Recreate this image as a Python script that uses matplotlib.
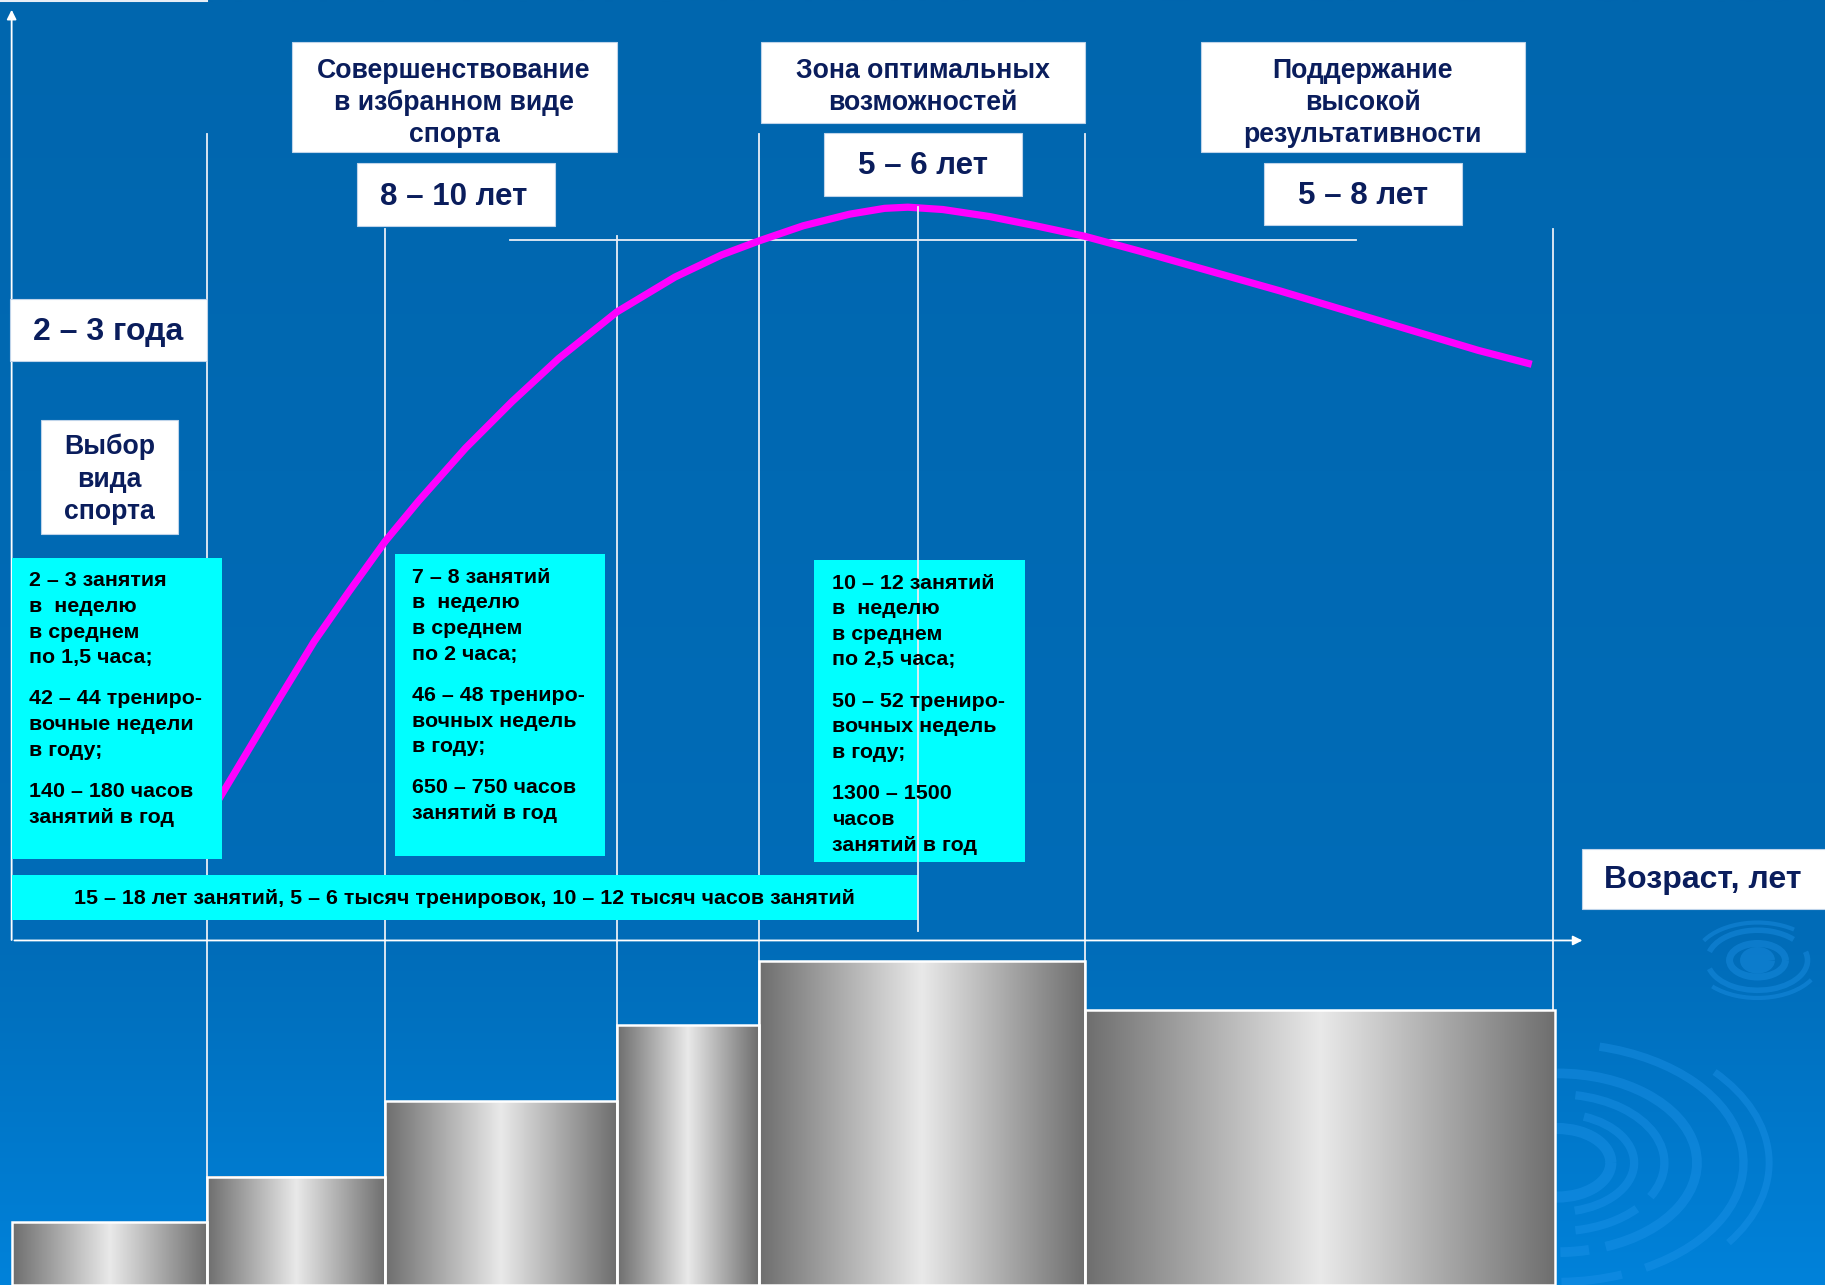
import numpy as np
import matplotlib
matplotlib.use("Agg")
import matplotlib.pyplot as plt
from matplotlib.patches import Rectangle, Arc
from matplotlib.colors import LinearSegmentedColormap, to_rgb
from matplotlib import font_manager as fm

# ---------------- data ----------------
W, H = 1568, 1104                      # drawing units (y grows downward)
stage_edges = [10, 178, 331, 530, 652, 932, 1336]   # boundaries of the age steps
bar_heights = [54, 93, 158, 223, 278, 236]          # height of each step above the baseline

curve_x = [186, 210, 240, 270, 300, 331, 360, 400, 440, 480, 530, 580, 620, 652,
           690, 730, 760, 780, 810, 850, 890, 932, 980, 1040, 1100, 1160, 1220, 1270, 1316]
curve_y = [690, 650, 600, 551, 508, 465, 430, 385, 345, 308, 268, 238, 219, 207,
           194, 184, 179, 178, 180, 186, 194, 203, 216, 233, 250, 268, 286, 301, 313]

stage_titles = ["Совершенствование\nв избранном виде\nспорта",
                "Зона оптимальных\nвозможностей",
                "Поддержание\nвысокой\nрезультативности"]
stage_durations = ["8 – 10 лет", "5 – 6 лет", "5 – 8 лет"]
first_duration = "2 – 3 года"
first_title = "Выбор\nвида\nспорта"

load_texts = [
    [["2 – 3 занятия", "в  неделю", "в среднем", "по 1,5 часа;"],
     ["42 – 44 трениро-", "вочные недели", "в году;"],
     ["140 – 180 часов", "занятий в год"]],
    [["7 – 8 занятий", "в  неделю", "в среднем", "по 2 часа;"],
     ["46 – 48 трениро-", "вочных недель", "в году;"],
     ["650 – 750 часов", "занятий в год"]],
    [["10 – 12 занятий", "в  неделю", "в среднем", "по 2,5 часа;"],
     ["50 – 52 трениро-", "вочных недель", "в году;"],
     ["1300 – 1500", "часов", "занятий в год"]],
]
band_text = "15 – 18 лет занятий, 5 – 6 тысяч тренировок, 10 – 12 тысяч часов занятий"
axis_label = "Возраст, лет"

# ---------------- fonts ----------------
def has_font(name):
    try:
        fm.findfont(fm.FontProperties(family=name), fallback_to_default=False)
        return True
    except Exception:
        return False

REG = 'Liberation Sans' if has_font('Liberation Sans') else 'DejaVu Sans'

NAVY = '#0A1D5C'
CYAN = '#00FFFF'
MAG = '#FF00FF'
LINE = '#E8EEF6'
DY = 2  # small baseline nudge for text

fig = plt.figure(figsize=(18.25, 12.85), dpi=100)
ax = fig.add_axes([0, 0, 1, 1])
ax.set_axis_off()

# ---------------- background ----------------
ys = np.linspace(0, H, 400)
c_top = np.array(to_rgb('#0066AE'))
c_mid = np.array(to_rgb('#006CB8'))
c_bot = np.array(to_rgb('#0082DA'))
bg = np.zeros((400, 1, 3))
for i, y in enumerate(ys):
    if y < 808:
        t = y / 808
        bg[i, 0] = c_top * (1 - t) + c_mid * t
    else:
        t = (y - 808) / (H - 808)
        bg[i, 0] = c_mid * (1 - t) + c_bot * t
ax.imshow(bg, extent=(0, W, H, 0), aspect='auto', zorder=0, interpolation='bilinear')

# decorative ripples
rip = '#2196EC'
big_rings = [(46, 8, [(0, 360)]), (66, 6, [(300, 70)]),
             (92, 6, [(285, 20), (30, 75)]), (120, 7, [(270, 60), (70, 88)]),
             (160, 6, [(290, 50), (60, 88)]), (182, 5, [(330, 25)])]
for r, lw, segs in big_rings:
    for t1, t2 in segs:
        ax.add_patch(Arc((1338, 999), 2 * r, 2 * r * 0.64, theta1=t1, theta2=t2,
                         color=rip, lw=lw, alpha=0.38, zorder=1))
for rx, lw, segs in [(9, 10, [(0, 360)]), (24, 5, [(0, 360)]),
                     (43, 4, [(190, 330), (350, 170)]), (54, 3, [(20, 150), (200, 320)])]:
    for t1, t2 in segs:
        ax.add_patch(Arc((1510, 825), 2 * rx, 2 * rx * 0.6, theta1=t1, theta2=t2,
                         color=rip, lw=lw, alpha=0.38, zorder=1))

# ---------------- bars ----------------
bar_cmap = LinearSegmentedColormap.from_list(
    'metal', [(0, '#6E6E6E'), (0.5, '#E9E9E9'), (1, '#6E6E6E')])
grad = np.linspace(0, 1, 256)[None, :]
for i, h in enumerate(bar_heights):
    x0, x1 = stage_edges[i], stage_edges[i + 1]
    top = H - h
    ax.imshow(grad, extent=(x0, x1, H, top), cmap=bar_cmap, aspect='auto',
              zorder=2, interpolation='bilinear')
    ax.add_patch(Rectangle((x0, top), x1 - x0, h, fill=False, ec='white', lw=1.8, zorder=3))

# ---------------- guide lines ----------------
vlines = [(178, 115, H), (331, 197, H), (530, 203, H), (652, 115, H),
          (932, 115, H), (1334, 197, H - bar_heights[-1])]
for x, y0, y1 in vlines:
    ax.plot([x, x], [y0, y1], color=LINE, lw=1.3, zorder=2.5)
ax.plot([789, 789], [178, 800], color=LINE, lw=1.3, zorder=6)
ax.plot([438, 1165], [206, 206], color=LINE, lw=1.3, zorder=2.5)
ax.plot([0, 178], [1, 1], color=LINE, lw=1.5, zorder=2.5)

# axes arrows
ax.annotate('', xy=(1362, 808), xytext=(10, 808),
            arrowprops=dict(arrowstyle='-|>', color='white', lw=1.3, mutation_scale=14), zorder=3)
ax.annotate('', xy=(10, 6), xytext=(10, 810),
            arrowprops=dict(arrowstyle='-|>', color='white', lw=1.3, mutation_scale=14), zorder=3)

# ---------------- curve ----------------
ax.plot(curve_x, curve_y, color=MAG, lw=5.2, solid_capstyle='butt',
        solid_joinstyle='round', zorder=4)

# ---------------- white label boxes ----------------
def wbox(x0, y0, x1, y1, z=5):
    ax.add_patch(Rectangle((x0, y0), x1 - x0, y1 - y0, fc='white', ec='#BFD4EA', lw=0.8, zorder=z))

def lines(xc, ys_, txt, size, ha='center', color=NAVY, z=6):
    for y, s in zip(ys_, txt.split('\n')):
        ax.text(xc, y + DY, s, ha=ha, va='center', fontsize=size, fontweight='bold',
                family=REG, color=color, zorder=z)

title_boxes = [(251, 36, 530, 131), (654, 36, 932, 106), (1032, 36, 1310, 131)]
title_centers = [390, 793, 1171]
for b, xc, t in zip(title_boxes, title_centers, stage_titles):
    wbox(*b)
    n = len(t.split('\n'))
    lines(xc, [59 + 27.5 * k for k in range(n)], t, 19.2)

dur_boxes = [(307, 140, 477, 194), (708, 114, 878, 168), (1086, 140, 1256, 193)]
dur_y = [166, 140, 165]
for b, xc, yc, t in zip(dur_boxes, title_centers, dur_y, stage_durations):
    wbox(*b)
    lines(xc, [yc + 1], t, 22.5)

wbox(9, 257, 178, 310)
lines(93, [283], first_duration, 23)
wbox(35, 361, 153, 459)
lines(94, [382, 410, 438], first_title, 19.2)

wbox(1359, 729, 1580, 781)
lines(1463, [754], axis_label, 23)

# ---------------- cyan info boxes ----------------
cyan_boxes = [(10, 479, 191, 738), (339, 476, 520, 735), (699, 481, 881, 741)]
text_x = [25, 354, 715]
text_y0 = [497, 494, 499]
for b, tx, ty, paras in zip(cyan_boxes, text_x, text_y0, load_texts):
    ax.add_patch(Rectangle((b[0], b[1]), b[2] - b[0], b[3] - b[1], fc=CYAN, ec='none', zorder=5))
    y = ty + DY
    for p in paras:
        for s in p:
            ax.text(tx, y, s, ha='left', va='center', fontsize=15.4, fontweight='bold',
                    family=REG, color='black', zorder=6)
            y += 22
        y += 13.5

ax.add_patch(Rectangle((10, 752), 779, 38, fc=CYAN, ec='none', zorder=5))
ax.text(399, 770 + DY, band_text, ha='center', va='center', fontsize=15.4,
        fontweight='bold', family=REG, color='black', zorder=6)

ax.set_xlim(0, W)
ax.set_ylim(H, 0)
fig.savefig('out.png', dpi=100)
